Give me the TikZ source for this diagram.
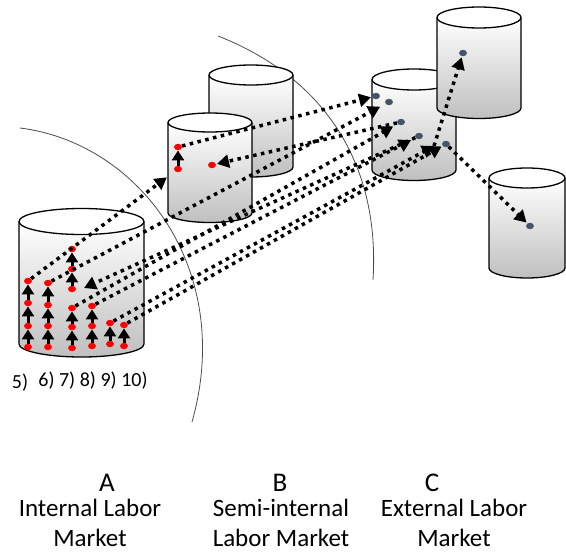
\documentclass[tikz,border=0pt]{standalone}
\usepackage{fontspec}
\setmainfont{Carlito}
\usepackage{tikz}
\usetikzlibrary{arrows.meta}
\usetikzlibrary{shapes.geometric}
\usetikzlibrary{positioning}
\definecolor{slate}{RGB}{68,84,106}
\tikzset{drumbody/.style={top color=white, middle color=white!97!black, bottom color=black!25}}
\tikzset{drumline/.style={draw=black, line width=1.3pt}}
% cylinder: centre x, top y, bottom y, x radius, y radius
\newcommand{\drum}[5]{%
  \path[drumbody] ({#1-#4},#2) -- ({#1-#4},#3)
     arc[start angle=180, end angle=0, x radius=#4, y radius=#5] -- ({#1+#4},#2) -- cycle;
  \draw[drumline] ({#1-#4},#2) -- ({#1-#4},#3)
     arc[start angle=180, end angle=0, x radius=#4, y radius=#5] -- ({#1+#4},#2);
  \draw[drumline, fill=white] (#1,#2) ellipse[x radius=#4, y radius=#5];
}

\begin{document}
\begin{tikzpicture}[x=1pt, y=-1pt]
\tikzstyle{rim} = [draw=black!70, line width=0.8pt]
\tikzstyle{flow} = [-{Triangle[length=12pt,width=13pt]}, line width=3.5pt, dash pattern=on 3.5pt off 4.5pt]
\tikzstyle{up} = [-{Triangle[length=10pt,width=12pt]}, line width=3pt]
\tikzstyle{rdot} = [ellipse, fill=red, minimum width=8pt, minimum height=6.5pt, inner sep=0pt]
\tikzstyle{sdot} = [ellipse, fill=slate, minimum width=8pt, minimum height=6.5pt, inner sep=0pt]
\tikzstyle{num} = [font=\fontsize{20}{24}\selectfont, inner sep=0pt]
\tikzstyle{letter} = [font=\fontsize{27}{30}\selectfont, inner sep=0pt]
\tikzstyle{caption} = [font=\fontsize{25}{30}\selectfont, align=center, inner sep=0pt]

\useasboundingbox (0,0) rectangle (566,554);
\clip (0,0) rectangle (566,554);

% market borders
\draw[rim] (20,128) .. controls (140,143) and (235,270) .. (192,422);
\draw[rim] (218,36) .. controls (330,80) and (380,170) .. (373,280);

% markets
\drum{81.5}{221.5}{344}{62.5}{13}
\drum{251}{75}{167}{42}{10}
\drum{210}{122.5}{213}{42}{9.5}
\drum{414}{79.5}{170}{42}{10.5}
\drum{479}{17.5}{108}{42}{10.5}
\drum{527}{178}{268}{38}{10}

% positions
\node[rdot] (A51) at (28,347) {};
\node[rdot] (A52) at (28,326) {};
\node[rdot] (A53) at (28,303) {};
\node[rdot] (A54) at (28,281) {};
\node[rdot] (A61) at (48,347) {};
\node[rdot] (A62) at (48,326) {};
\node[rdot] (A63) at (48,305) {};
\node[rdot] (A64) at (48,283) {};
\node[rdot] (A71) at (72,348) {};
\node[rdot] (A72) at (72,327) {};
\node[rdot] (A73) at (72,308) {};
\node[rdot] (A74) at (72,289) {};
\node[rdot] (A75) at (72,269) {};
\node[rdot] (A76) at (72,249) {};
\node[rdot] (A81) at (92,346) {};
\node[rdot] (A82) at (92,326) {};
\node[rdot] (A83) at (92,306) {};
\node[rdot] (A91) at (110,344) {};
\node[rdot] (A92) at (110,323) {};
\node[rdot] (A101) at (124,346) {};
\node[rdot] (A102) at (124,325) {};

\node[rdot] (B1) at (178,169) {};
\node[rdot] (B2) at (178,147) {};
\node[rdot] (B3) at (212,165) {};

\node[sdot] (C1) at (376,96) {};
\node[sdot] (C2) at (389,102) {};
\node[sdot] (C3) at (401,122) {};
\node[sdot] (C4) at (419,136) {};
\node[sdot] (C5) at (446,144) {};
\node[sdot] (CT) at (463,53) {};
\node[sdot] (CB) at (530,226) {};

\coordinate (AIN) at (84,288);
\coordinate (CMID) at (434,146);

% moves between markets
\draw[flow, shorten >=10pt] (A54) -- (B1);
\draw[flow, shorten >=1pt] (B2) -- (C1);
\draw[flow, shorten >=6pt] (A64) -- (C2);
\draw[flow, shorten >=5pt] (A73) -- (C3);
\draw[flow, shorten >=5pt] (A83) -- (C4);
\draw[flow] (A92) -- (CMID);
\draw[flow, shorten >=1pt] (A102) -- (C5);
\draw[flow, shorten >=1pt] (C3) -- (B3);
\draw[flow] (C4) -- (AIN);
\draw[flow, shorten >=1pt] (CMID) -- (CT);
\draw[flow, shorten >=1pt] (C5) -- (CB);

% moves inside a market
\draw[up] (A51) -- (A52);
\draw[up] (A52) -- (A53);
\draw[up] (A53) -- (A54);
\draw[up] (A61) -- (A62);
\draw[up] (A62) -- (A63);
\draw[up] (A63) -- (A64);
\draw[up] (A71) -- (A72);
\draw[up] (A72) -- (A73);
\draw[up] (A74) -- (A75);
\draw[up] (A75) -- (A76);
\draw[up] (A81) -- (A82);
\draw[up] (A82) -- (A83);
\draw[up] (A91) -- (A92);
\draw[up] (A101) -- (A102);
\draw[up] (B1) -- (B2);

% labels
\node[num] (N5) at (20,383) {5)};
\node[num] (N610) at (93,381) {6) 7) 8) 9) 10)};

\node[letter] (LA) at (107,483) {A};
\node[letter] (LB) at (280,483) {B};
\node[letter] (LC) at (432,483) {C};
\node[caption] (TA) at (90,523) {Internal Labor\\Market};
\node[caption] (TB) at (281,523) {Semi-internal\\Labor Market};
\node[caption] (TC) at (454,523) {External Labor\\Market};
\end{tikzpicture}
\end{document}
